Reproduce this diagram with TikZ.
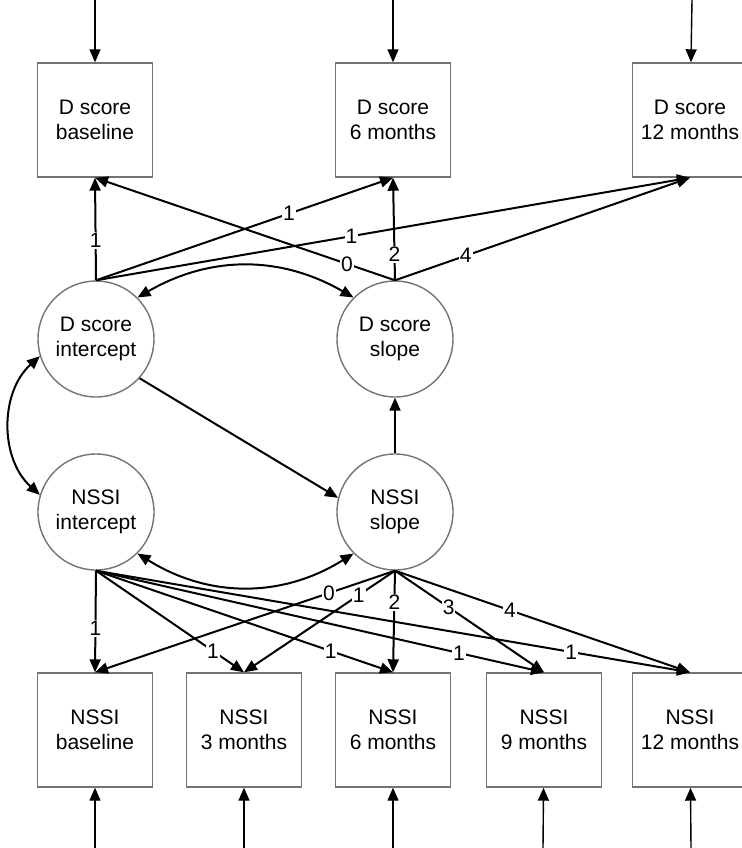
\documentclass[tikz,border=0pt]{standalone}
\usepackage{fontspec}
\setmainfont{Liberation Sans}
\usetikzlibrary{arrows.meta}
\definecolor{boxgray}{RGB}{115,115,115}
\newcommand{\widthbox}{115pt}
\newcommand{\heightbox}{114pt}
\newcommand{\sizelatent}{116pt}
\tikzset{
    common/.style={draw=boxgray, line width=1.4pt, align=center, inner sep=0pt, font=\fontsize{21}{25}\selectfont},
    observed/.style={common, rectangle, minimum width=\widthbox, minimum height=\heightbox},
    latent/.style={common, circle, minimum size=\sizelatent},
    reg/.style={line width=2pt, -{Triangle[length=13pt, width=11pt]}},
    cov/.style={line width=2pt, {Triangle[length=13pt, width=11pt]}-{Triangle[length=13pt, width=11pt]}},
    resid/.style={line width=1.4pt, -{Triangle[length=13pt, width=11pt]}},
    load/.style={fill=white, inner sep=1pt, font=\fontsize{21}{21}\selectfont}
}

\begin{document}
\begin{tikzpicture}[x=1pt, y=-1pt]
    \useasboundingbox (0,0) rectangle (741,848);

    \node[observed] (d-0) at (95,120) {D score\\baseline};
    \node[observed] (d-6) at (393,120) {D score\\6 months};
    \node[observed] (d-12) at (690,120) {D score\\12 months};
    \node[latent] (d-int) at (96,339) {D score\\intercept};
    \node[latent] (d-slope) at (395,339) {D score\\slope};
    \node[latent] (n-int) at (96,512) {NSSI\\intercept};
    \node[latent] (n-slope) at (395,512) {NSSI\\slope};
    \node[observed] (n-0) at (95,730) {NSSI\\baseline};
    \node[observed] (n-3) at (244,730) {NSSI\\3 months};
    \node[observed] (n-6) at (393,730) {NSSI\\6 months};
    \node[observed] (n-9) at (544,730) {NSSI\\9 months};
    \node[observed] (n-12) at (690,730) {NSSI\\12 months};

    \coordinate (e-d-0) at (95,0);
    \coordinate (e-d-6) at (393,0);
    \coordinate (e-d-12) at (692,0);
    \coordinate (e-n-0) at (95,848);
    \coordinate (e-n-3) at (244,848);
    \coordinate (e-n-6) at (393,848);
    \coordinate (e-n-9) at (543,848);
    \coordinate (e-n-12) at (691,848);

    \draw[resid] (e-d-0) -- (d-0);
    \draw[resid] (e-d-6) -- (d-6);
    \draw[resid] (e-d-12) -- (d-12);
    \draw[resid] (e-n-0) -- (n-0);
    \draw[resid] (e-n-3) -- (n-3);
    \draw[resid] (e-n-6) -- (n-6);
    \draw[resid] (e-n-9) -- (n-9);
    \draw[resid] (e-n-12) -- (n-12);

    \draw[reg] (d-slope.north) -- node[load, pos=0.16] {0} (d-0.south);
    \draw[reg] (d-slope.north) -- node[load, pos=0.25] {2} (d-6.south);
    \draw[reg] (d-slope.north) -- node[load, pos=0.24] {4} (d-12.south);
    \draw[reg] (d-int.north) -- node[load, pos=0.39] {1} (d-0.south);
    \draw[reg] (d-int.north) -- node[load, pos=0.65] {1} (d-6.south);
    \draw[reg] (d-int.north) -- node[load, pos=0.43] {1} (d-12.south);

    \draw[cov] (d-int.45) to[bend left=30] (d-slope.135);
    \draw[cov] (d-int.197) to[bend right=48] (n-int.163);
    \draw[cov] (n-int.-45) to[bend right=32] (n-slope.-135);
    \draw[reg] (d-int.-42) -- (n-slope.166);
    \draw[reg] (n-slope) -- (d-slope);

    \draw[reg] (n-int.south) -- node[load, pos=0.57] {1} (n-0.north);
    \draw[reg] (n-int.south) -- node[load, pos=0.79] {1} (n-3.north);
    \draw[reg] (n-int.south) -- node[load, pos=0.79] {1} (n-6.north);
    \draw[reg] (n-int.south) -- node[load, pos=0.81] {1} (n-9.north);
    \draw[reg] (n-int.south) -- node[load, pos=0.80] {1} (n-12.north);
    \draw[reg] (n-slope.south) -- node[load, pos=0.22] {0} (n-0.north);
    \draw[reg] (n-slope.south) -- node[load, pos=0.24] {1} (n-3.north);
    \draw[reg] (n-slope.south) -- node[load, pos=0.31] {2} (n-6.north);
    \draw[reg] (n-slope.south) -- node[load, pos=0.36] {3} (n-9.north);
    \draw[reg] (n-slope.south) -- node[load, pos=0.39] {4} (n-12.north);
\end{tikzpicture}
\end{document}
